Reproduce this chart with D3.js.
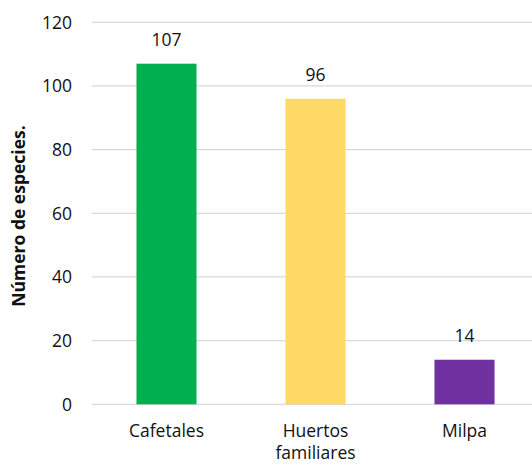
<!DOCTYPE html>
<html>
<head>
<meta charset="utf-8">
<script src="https://cdn.jsdelivr.net/npm/d3@7"></script>
<style>
  html, body { margin: 0; padding: 0; background: #fff; }
  svg { display: block; font-family: "Open Sans", "Liberation Sans", sans-serif; }
</style>
</head>
<body>
<svg id="chart" width="532" height="466"></svg>
<script>
// Species count per land-use system
const categories = ["Cafetales", "Huertos familiares", "Milpa"];
const categoryLines = [["Cafetales"], ["Huertos", "familiares"], ["Milpa"]];
const values = [107, 96, 14];
const barColors = ["#00B050", "#FFD966", "#7030A0"];
const yTicks = [0, 20, 40, 60, 80, 100, 120];
const yTitle = "Número de especies.";

const svg = d3.select("#chart");
const labelSize = 17.5;

const x = d3.scaleBand()
  .domain(categories)
  .range([92, 539])
  .paddingInner(0.597)
  .paddingOuter(0.2985);

const y = d3.scaleLinear()
  .domain([0, 120])
  .range([404.3, 22.3]);

// Horizontal gridlines
svg.append("g")
  .selectAll("line")
  .data(yTicks)
  .join("line")
  .attr("x1", 92)
  .attr("x2", 539)
  .attr("y1", d => y(d))
  .attr("y2", d => y(d))
  .attr("stroke", "#d9d9d9")
  .attr("stroke-width", 1.3);

// Y tick labels
svg.append("g")
  .selectAll("text")
  .data(yTicks)
  .join("text")
  .attr("x", 72)
  .attr("y", d => y(d))
  .attr("dy", "0.36em")
  .attr("text-anchor", "end")
  .attr("font-size", labelSize)
  .attr("fill", "#111")
  .text(d => d);

// Bars
svg.append("g")
  .selectAll("rect")
  .data(values)
  .join("rect")
  .attr("x", (d, i) => x(categories[i]))
  .attr("width", x.bandwidth())
  .attr("y", d => y(d))
  .attr("height", d => y(0) - y(d))
  .attr("fill", (d, i) => barColors[i]);

// Value labels above bars
svg.append("g")
  .selectAll("text")
  .data(values)
  .join("text")
  .attr("x", (d, i) => x(categories[i]) + x.bandwidth() / 2)
  .attr("y", d => y(d) - 18)
  .attr("text-anchor", "middle")
  .attr("font-size", labelSize)
  .attr("fill", "#111")
  .text(d => d);

// Category labels (wrapped)
const cat = svg.append("g")
  .selectAll("text")
  .data(categories)
  .join("text")
  .attr("x", d => x(d) + x.bandwidth() / 2)
  .attr("y", 437)
  .attr("text-anchor", "middle")
  .attr("font-size", labelSize)
  .attr("fill", "#111");
cat.each(function(d, i) {
  d3.select(this).selectAll("tspan")
    .data(categoryLines[i])
    .join("tspan")
    .attr("x", x(d) + x.bandwidth() / 2)
    .attr("dy", (t, j) => j === 0 ? 0 : 22)
    .text(t => t);
});

// Y axis title
svg.append("text")
  .attr("transform", "translate(25,216) rotate(-90)")
  .attr("text-anchor", "middle")
  .attr("font-size", 17.5)
  .attr("font-weight", "bold")
  .attr("fill", "#111")
  .text(yTitle);
</script>
</body>
</html>
